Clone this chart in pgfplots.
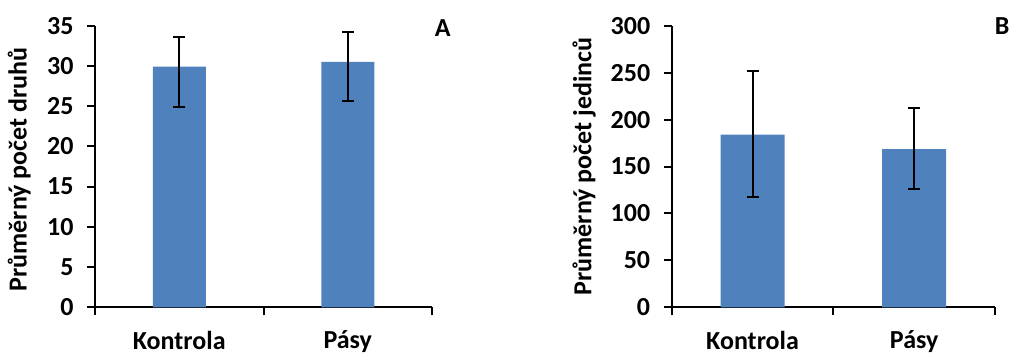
\documentclass[border=0pt]{standalone}
\usepackage{pgfplots}
\pgfplotsset{compat=1.18}
\usepackage{fontspec}
\setmainfont{Carlito}
\definecolor{barblue}{HTML}{4F81BD}
\newcommand{\ff}{\fontsize{26}{26}\selectfont\bfseries}
\pgfplotsset{
  panel/.style={
    scale only axis,
    anchor=south west,
    height=281.6pt,
    axis x line*=bottom,
    axis y line*=left,
    axis line style={line width=2pt, black},
    xmin=0.5, xmax=2.5,
    xtick={1,2},
    xticklabels={Kontrola,Pásy},
    minor xtick={0.5,1.5,2.5},
    major x tick style={draw=none},
    minor x tick style={line width=2pt, black},
    ytick style={line width=2pt, black},
    tick align=outside,
    major tick length=8pt,
    minor tick length=8pt,
    ymin=0,
    /pgf/number format/assume math mode=true,
    tick label style={font=\ff},
    xticklabel style={yshift=-12pt},
    yticklabel style={xshift=-10pt},
    every axis y label/.style={rotate=90, anchor=center, font=\ff},
    ybar,
    clip=false,
  },
  errs/.style={
    fill=barblue, draw=none,
    error bars/.cd, y dir=both, y explicit,
    error bar style={line width=2pt, draw=black, solid},
    error mark options={rotate=90, mark size=6pt, line width=2pt, draw=black, solid},
  },
}
\begin{document}
\begin{tikzpicture}[x=1pt,y=1pt]
\useasboundingbox (0,0) rectangle (1012,354);
\begin{axis}[panel,
  at={(95pt,46.7pt)}, width=337pt,
  ymax=35, ytick={0,5,...,35},
  bar width=53pt,
  ylabel={Průměrný počet druhů},
  every axis y label/.append style={at={(axis description cs:-0.225,0.49)}},
]
\addplot+[errs] coordinates {
  (1,29.9) += (0,3.75) -= (0,4.95)
  (2,30.5) += (0,3.7) -= (0,4.85)
};
\node[font=\ff] at (rel axis cs:1.032,0.99) {A};
\end{axis}
\begin{axis}[panel,
  at={(671.7pt,46.7pt)}, width=323.3pt,
  ymax=300, ytick={0,50,...,300},
  bar width=64pt,
  ylabel={Průměrný počet jedinců},
  every axis y label/.append style={at={(axis description cs:-0.271,0.5)}},
]
\addplot+[errs] coordinates {
  (1,184) += (0,68) -= (0,67)
  (2,168.5) += (0,44) -= (0,42.5)
};
\node[font=\ff] at (rel axis cs:1.022,1.0) {B};
\end{axis}
\end{tikzpicture}
\end{document}
